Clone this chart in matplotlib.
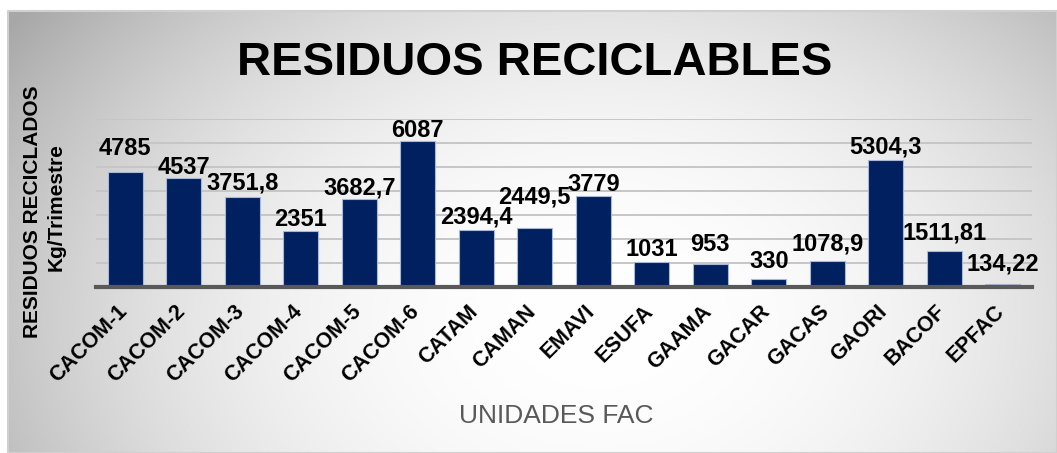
import numpy as np
import matplotlib
matplotlib.use("Agg")
import matplotlib.pyplot as plt
from matplotlib import transforms

categories = ["CACOM-1", "CACOM-2", "CACOM-3", "CACOM-4", "CACOM-5", "CACOM-6",
              "CATAM", "CAMAN", "EMAVI", "ESUFA", "GAAMA", "GACAR", "GACAS",
              "GAORI", "BACOF", "EPFAC"]
values = [4785, 4537, 3751.8, 2351, 3682.7, 6087, 2394.4, 2449.5, 3779,
          1031, 953, 330, 1078.9, 5304.3, 1511.81, 134.22]
value_labels = ["4785", "4537", "3751,8", "2351", "3682,7", "6087", "2394,4",
                "2449,5", "3779", "1031", "953", "330", "1078,9", "5304,3",
                "1511,81", "134,22"]
# gap (in pixels) between bar top and label baseline, as in the reference
label_gaps_px = [17, 4, 7, 5, 4, 4, 6, 25, 5, 6, 13, 11, 11, 6, 11, 13]

W, H = 1057, 453
fig = plt.figure(figsize=(W / 100, H / 100), dpi=100)
fig.patch.set_facecolor("white")

plt.rcParams['font.family'] = ['Liberation Sans', 'DejaVu Sans']

# background panel with radial gradient
x0, y0 = 8, 11
bg = fig.add_axes([x0 / W, 0, 1 - x0 / W, 1 - y0 / H])
bg.set_axis_off()
nx, ny = W - x0, H - y0
xx, yy = np.meshgrid(np.arange(nx) + x0, np.arange(ny) + y0)
cx, cy, rx, ry = 600, 320, 600, 430
r = np.sqrt(((xx - cx) / rx) ** 2 + ((yy - cy) / ry) ** 2)
g = 1 - 0.23 * np.clip(r, 0, 1.2) ** 2.2
img = np.dstack([g, g, g])
bg.imshow(img, aspect='auto', extent=[0, 1, 0, 1], origin='upper', interpolation='bilinear')
bg.set_xlim(0, 1)
bg.set_ylim(0, 1)
bg.plot([0, 1, 1, 0, 0], [0, 0, 1, 1, 0], color="#d0d0d0", lw=1.5, transform=bg.transAxes, clip_on=False)

# main axes
ax_left, ax_right, ax_top, ax_bottom = 96, 1032, 119, 287
ax = fig.add_axes([ax_left / W, 1 - ax_bottom / H, (ax_right - ax_left) / W, (ax_bottom - ax_top) / H])
ax.set_facecolor("none")
x = np.arange(len(categories))
ax.bar(x, values, width=0.6, color="#002060", edgecolor="#a9b8d6", linewidth=0.8, zorder=3)
ax.set_xlim(-0.5, len(categories) - 0.5)
ax.set_ylim(0, 7000)
ax.set_yticks(np.arange(1000, 7001, 1000))
ax.yaxis.grid(True, color="#c6c6c6", linewidth=1.4, zorder=0)
ax.set_axisbelow(True)
ax.tick_params(axis='y', left=False, labelleft=False)
for s in ["top", "right", "left"]:
    ax.spines[s].set_visible(False)
ax.spines["bottom"].set_color("#595959")
ax.spines["bottom"].set_linewidth(3)
ax.spines["bottom"].set_zorder(4)

ax.set_xticks(x)
ax.set_xticklabels(categories, rotation=45, ha='right', rotation_mode='anchor',
                   fontsize=15.5, fontweight='bold', color='black')
ax.tick_params(axis='x', length=0, pad=10)
offset = transforms.ScaledTranslation(-9 / 100, 0, fig.dpi_scale_trans)
for lbl in ax.get_xticklabels():
    lbl.set_transform(lbl.get_transform() + offset)

for xi, v, t, gap in zip(x, values, value_labels, label_gaps_px):
    ax.annotate(t, (xi, v), xytext=(0, gap * 0.72), textcoords='offset points',
                ha='center', va='baseline', fontsize=17, fontweight='bold',
                color='black', zorder=5, annotation_clip=False)

fig.text(535 / W, 1 - 75 / H, "RESIDUOS RECICLABLES", ha='center', va='baseline',
         fontsize=34, fontweight='bold', color='black')
fig.text(556 / W, 1 - 423 / H, "UNIDADES FAC", ha='center', va='baseline',
         fontsize=19, color='#595959')
fig.text(33 / W, 1 - 212 / H, "RESIDUOS RECICLADOS", rotation=90, ha='center', va='center',
         fontsize=15, fontweight='bold', color='black')
fig.text(56 / W, 1 - 207 / H, "Kg/Trimestre", rotation=90, ha='center', va='center',
         fontsize=15, fontweight='bold', color='black')

fig.savefig("out.png", dpi=100)
